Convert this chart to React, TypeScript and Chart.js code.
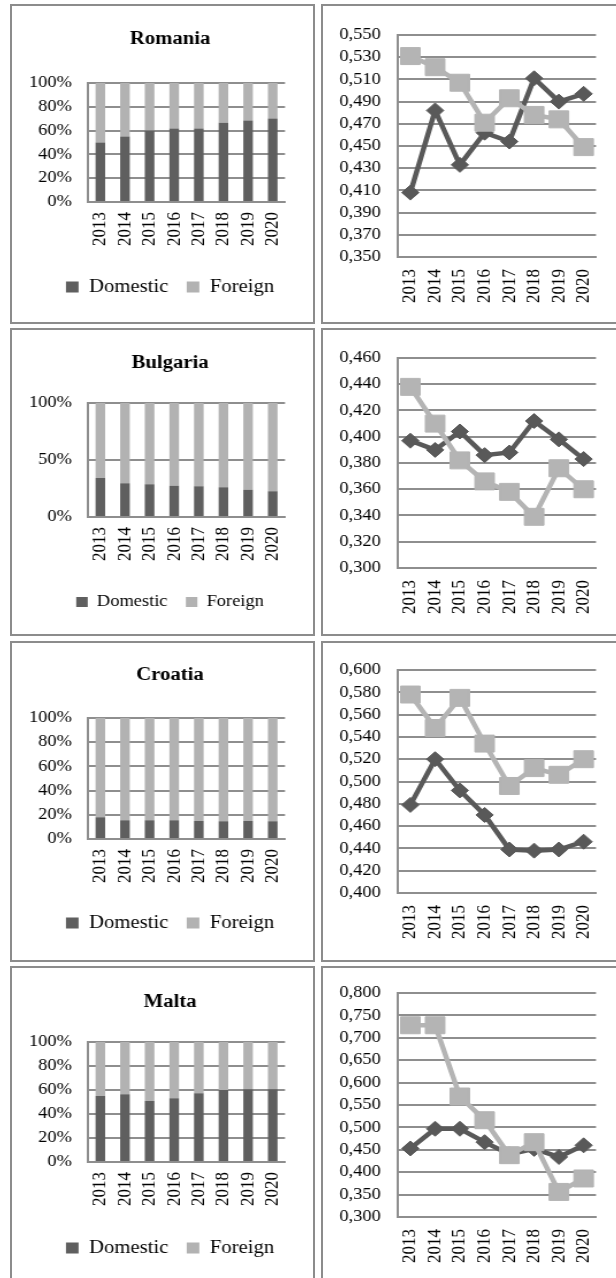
import React, { useEffect, useRef } from 'react';
import { Chart, registerables } from 'chart.js';

Chart.register(...registerables);

// ---------- data ----------
const years = ['2013', '2014', '2015', '2016', '2017', '2018', '2019', '2020'];

// shares of domestic / foreign (percent, 100% stacked bars)
const romaniaDomesticShare = [50.0, 55.1, 60.1, 61.8, 61.8, 66.6, 68.5, 70.2];
const romaniaForeignShare = [50.0, 44.9, 39.9, 38.2, 38.2, 33.4, 31.5, 29.8];
const bulgariaDomesticShare = [34.2, 29.5, 28.7, 27.5, 26.9, 26.0, 24.0, 22.5];
const bulgariaForeignShare = [65.8, 70.5, 71.3, 72.5, 73.1, 74.0, 76.0, 77.5];
const croatiaDomesticShare = [17.9, 15.4, 15.4, 15.4, 14.9, 14.6, 14.9, 14.6];
const croatiaForeignShare = [82.1, 84.6, 84.6, 84.6, 85.1, 85.4, 85.1, 85.4];
const maltaDomesticShare = [55.0, 56.4, 50.8, 53.1, 57.2, 60.0, 60.6, 60.6];
const maltaForeignShare = [45.0, 43.6, 49.2, 46.9, 42.8, 40.0, 39.4, 39.4];

// index values (line charts)
const romaniaDomesticIndex = [0.408, 0.482, 0.433, 0.462, 0.454, 0.511, 0.49, 0.497];
const romaniaForeignIndex = [0.531, 0.521, 0.507, 0.471, 0.493, 0.478, 0.474, 0.449];
const bulgariaDomesticIndex = [0.397, 0.39, 0.404, 0.386, 0.388, 0.412, 0.398, 0.383];
const bulgariaForeignIndex = [0.438, 0.41, 0.382, 0.366, 0.358, 0.339, 0.376, 0.36];
const croatiaDomesticIndex = [0.479, 0.52, 0.492, 0.47, 0.439, 0.438, 0.439, 0.446];
const croatiaForeignIndex = [0.578, 0.548, 0.575, 0.534, 0.496, 0.512, 0.506, 0.52];
const maltaDomesticIndex = [0.453, 0.497, 0.497, 0.467, 0.44, 0.452, 0.434, 0.46];
const maltaForeignIndex = [0.728, 0.728, 0.569, 0.516, 0.438, 0.467, 0.356, 0.386];

// axis settings
const romaniaShareTicks = { min: 0, max: 100, step: 20 };
const bulgariaShareTicks = { min: 0, max: 100, step: 50 };
const croatiaShareTicks = { min: 0, max: 100, step: 20 };
const maltaShareTicks = { min: 0, max: 100, step: 20 };
const romaniaIndexTicks = { min: 0.35, max: 0.55, step: 0.02 };
const bulgariaIndexTicks = { min: 0.3, max: 0.46, step: 0.02 };
const croatiaIndexTicks = { min: 0.4, max: 0.6, step: 0.02 };
const maltaIndexTicks = { min: 0.3, max: 0.8, step: 0.05 };

// ---------- styles ----------
const SX = 1.15; // horizontal stretch of the reference picture
const FONT = "'Liberation Serif', 'Times New Roman', Times, serif";
const BAR_DARK = '#5f5f5f';
const BAR_LIGHT = '#b2b2b2';
const LINE_DARK = '#595959';
const LINE_LIGHT = '#b4b4b4';
const GRID = '#8e8e8e';
const PANEL_BORDER = '#8c8c8c';
const TEXT = '#000000';
const LEGEND_GAP = 16;

type Layout = {
  padLeft: number;
  padRight: number;
  padTop: number;
  padBottom: number;
  yWidth: number;
  xHeight: number;
  rightSpace: number;
};

function barConfig(
  title: string,
  dom: number[],
  fore: number[],
  t: { min: number; max: number; step: number },
  lay: Layout,
  titlePad: { top: number; bottom: number },
  legendSize: number
): any {
  return {
    type: 'bar',
    data: {
      labels: years,
      datasets: [
        { label: 'Domestic', data: dom, yAxisID: 'y', backgroundColor: BAR_DARK, barPercentage: 0.39, categoryPercentage: 1 },
        { label: 'Foreign', data: fore, yAxisID: 'y', backgroundColor: BAR_LIGHT, barPercentage: 0.39, categoryPercentage: 1 },
      ],
    },
    options: {
      animation: false,
      responsive: false,
      devicePixelRatio: 1,
      events: [],
      layout: { padding: { left: lay.padLeft, right: lay.padRight, top: lay.padTop, bottom: lay.padBottom } },
      plugins: {
        title: {
          display: true,
          text: title,
          color: TEXT,
          font: { family: FONT, size: 18, weight: 'bold' },
          padding: titlePad,
        },
        legend: {
          position: 'bottom',
          labels: {
            boxWidth: Math.round(legendSize * 0.62),
            boxHeight: Math.round(legendSize * 0.62),
            color: TEXT,
            font: { family: FONT, size: legendSize },
            padding: LEGEND_GAP,
          },
        },
        tooltip: { enabled: false },
      },
      scales: {
        x: {
          stacked: true,
          grid: { display: false, drawTicks: false },
          border: { display: true, color: GRID, width: 2 },
          ticks: {
            autoSkip: false,
            minRotation: 90,
            maxRotation: 90,
            color: TEXT,
            font: { family: FONT, size: 17 },
            padding: 10,
          },
          afterFit: (s: any) => { s.height = lay.xHeight; },
        },
        y: {
          stacked: true,
          min: t.min,
          max: t.max,
          ticks: {
            stepSize: t.step,
            color: TEXT,
            font: { family: FONT, size: 16 },
            padding: 14,
            callback: (v: any) => `${v}%`,
          },
          grid: { color: GRID, lineWidth: 2, drawTicks: false },
          border: { display: true, color: GRID, width: 2 },
          afterFit: (s: any) => { s.width = lay.yWidth; },
        },
        yRightSpace: {
          type: 'linear',
          position: 'right',
          display: true,
          grid: { display: false, drawTicks: false },
          border: { display: false },
          ticks: { display: false },
          afterFit: (s: any) => { s.width = lay.rightSpace; },
        },
      },
    },
  };
}

function lineConfig(
  dom: number[],
  fore: number[],
  t: { min: number; max: number; step: number },
  lay: Layout
): any {
  return {
    type: 'line',
    data: {
      labels: years,
      datasets: [
        {
          label: 'Foreign',
          data: fore,
          borderColor: LINE_LIGHT,
          backgroundColor: LINE_LIGHT,
          pointBorderColor: LINE_LIGHT,
          borderWidth: 4.5,
          pointStyle: 'rect',
          pointRadius: 12,
          pointBorderWidth: 1,
          order: 0,
        },
        {
          label: 'Domestic',
          data: dom,
          borderColor: LINE_DARK,
          backgroundColor: LINE_DARK,
          pointBorderColor: LINE_DARK,
          borderWidth: 4.5,
          pointStyle: 'rectRot',
          pointRadius: 7.5,
          pointBorderWidth: 1,
          order: 1,
        },
      ],
    },
    options: {
      animation: false,
      responsive: false,
      devicePixelRatio: 1,
      events: [],
      layout: { padding: { left: lay.padLeft, right: lay.padRight, top: lay.padTop, bottom: lay.padBottom } },
      plugins: { legend: { display: false }, title: { display: false }, tooltip: { enabled: false } },
      scales: {
        x: {
          offset: true,
          grid: { display: false, drawTicks: false, offset: true },
          border: { display: true, color: GRID, width: 2 },
          ticks: {
            autoSkip: false,
            minRotation: 90,
            maxRotation: 90,
            color: TEXT,
            font: { family: FONT, size: 17 },
            padding: 12,
          },
          afterFit: (s: any) => { s.height = lay.xHeight; },
        },
        y: {
          min: t.min,
          max: t.max,
          ticks: {
            stepSize: t.step,
            color: TEXT,
            font: { family: FONT, size: 16 },
            padding: 15,
            callback: (v: any) => Number(v).toFixed(3).replace('.', ','),
          },
          grid: { color: GRID, lineWidth: 2, drawTicks: false },
          border: { display: true, color: GRID, width: 2 },
          afterFit: (s: any) => { s.width = lay.yWidth; },
        },
      },
    },
  };
}

type PanelProps = { left: number; top: number; width: number; height: number; config: any };

function Panel({ left, top, width, height, config }: PanelProps) {
  const ref = useRef<HTMLCanvasElement>(null);
  const bw = 2;
  const iw = width - 2 * bw;
  const ih = height - 2 * bw;
  const cw = Math.round(iw / SX);
  useEffect(() => {
    const chart = new Chart(ref.current as HTMLCanvasElement, config);
    return () => chart.destroy();
  }, []);
  return (
    <div
      style={{
        position: 'absolute',
        left,
        top,
        width,
        height,
        boxSizing: 'border-box',
        border: `${bw}px solid ${PANEL_BORDER}`,
        overflow: 'hidden',
        background: '#fff',
      }}
    >
      <div
        style={{
          position: 'absolute',
          left: 0,
          top: 0,
          width: cw,
          height: ih,
          transform: `scaleX(${SX})`,
          transformOrigin: '0 0',
        }}
      >
        <canvas ref={ref} width={cw} height={ih} style={{ display: 'block', width: cw, height: ih }} />
      </div>
    </div>
  );
}

const LEFT_X = 10;
const RIGHT_X = 321;
const PANEL_W = 305;

const rows = [
  { top: 4, height: 320 },
  { top: 328, height: 308 },
  { top: 641, height: 321 },
  { top: 966, height: 320 },
];

const leftBase = { padLeft: 13, padRight: 0.2, padTop: 0, yWidth: 53.1, rightSpace: 24.4 };
const rightBase = { padLeft: 0, padRight: 24.6, padBottom: 0, yWidth: 65.2, rightSpace: 0 };
const legendExtra = LEGEND_GAP - 10;

export default function App() {
  const panels = [
    {
      row: 0,
      left: barConfig('Romania', romaniaDomesticShare, romaniaForeignShare, romaniaShareTicks,
        { ...leftBase, padBottom: 16, xHeight: 66 - legendExtra }, { top: 22.2, bottom: 33.2 }, 18),
      right: lineConfig(romaniaDomesticIndex, romaniaForeignIndex, romaniaIndexTicks,
        { ...rightBase, padTop: 29, xHeight: 65 }),
    },
    {
      row: 1,
      left: barConfig('Bulgaria', bulgariaDomesticShare, bulgariaForeignShare, bulgariaShareTicks,
        { ...leftBase, padBottom: 14, xHeight: 67 - legendExtra }, { top: 22.2, bottom: 29.2 }, 16),
      right: lineConfig(bulgariaDomesticIndex, bulgariaForeignIndex, bulgariaIndexTicks,
        { ...rightBase, padTop: 28, xHeight: 66 }),
    },
    {
      row: 2,
      left: barConfig('Croatia', croatiaDomesticShare, croatiaForeignShare, croatiaShareTicks,
        { ...leftBase, padBottom: 18, xHeight: 65 - legendExtra }, { top: 21.2, bottom: 32.2 }, 18),
      right: lineConfig(croatiaDomesticIndex, croatiaForeignIndex, croatiaIndexTicks,
        { ...rightBase, padTop: 27, xHeight: 67 }),
    },
    {
      row: 3,
      left: barConfig('Malta', maltaDomesticShare, maltaForeignShare, maltaShareTicks,
        { ...leftBase, padBottom: 17, xHeight: 67 - legendExtra }, { top: 23.2, bottom: 29.2 }, 18),
      right: lineConfig(maltaDomesticIndex, maltaForeignIndex, maltaIndexTicks,
        { ...rightBase, padTop: 25, xHeight: 67 }),
    },
  ];

  return (
    <div
      style={{
        position: 'absolute',
        left: 0,
        top: 0,
        width: 616,
        height: 1278,
        overflow: 'hidden',
        background: '#fff',
      }}
    >
      {panels.map((p) => (
        <React.Fragment key={p.row}>
          <Panel left={LEFT_X} top={rows[p.row].top} width={PANEL_W} height={rows[p.row].height} config={p.left} />
          <Panel left={RIGHT_X} top={rows[p.row].top} width={PANEL_W} height={rows[p.row].height} config={p.right} />
        </React.Fragment>
      ))}
    </div>
  );
}
